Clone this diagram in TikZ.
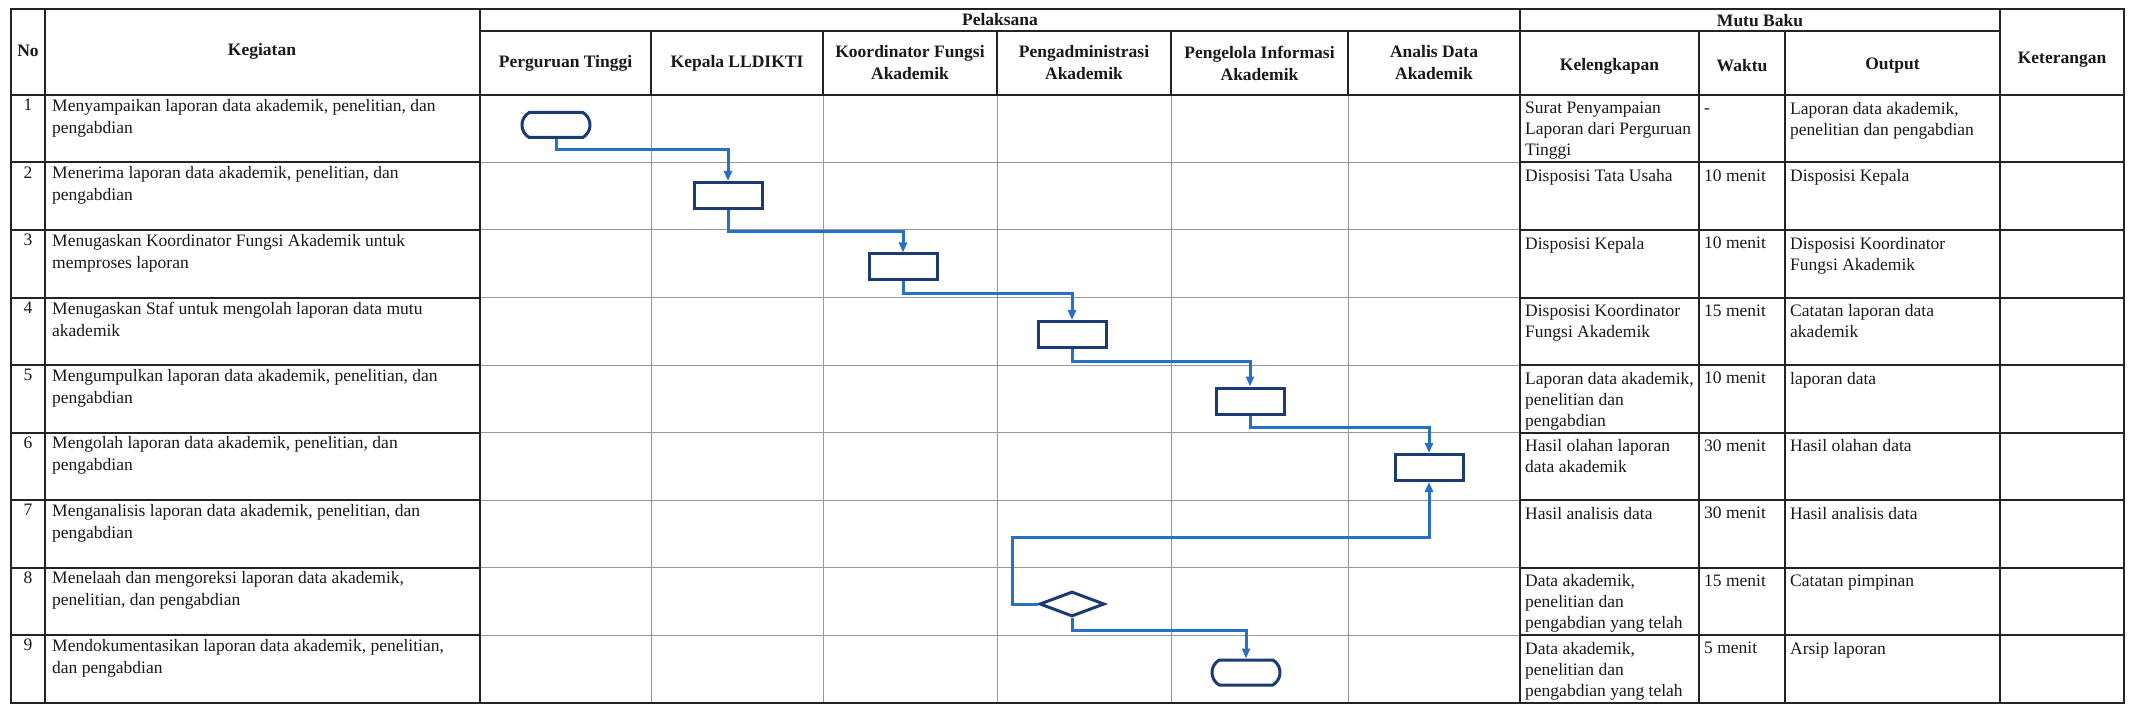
\documentclass[tikz,border=0pt]{standalone}
\usepackage{fontspec}
\setmainfont{Liberation Serif}
\usetikzlibrary{shapes.misc,shapes.geometric,arrows.meta}
\definecolor{lineblack}{RGB}{35,35,35}
\definecolor{gridgrey}{RGB}{150,150,155}
\definecolor{textblack}{RGB}{25,25,25}
\definecolor{boxblue}{RGB}{28,58,115}
\definecolor{flowblue}{RGB}{38,112,200}
\tikzset{
  blk/.style={line width=2pt, draw=lineblack},
  gry/.style={line width=1pt, draw=gridgrey},
  txt/.style={font=\fontsize{17.5}{22}\selectfont, text=textblack, inner sep=0pt, align=left, anchor=north west},
  rtxt/.style={font=\fontsize{17.5}{21}\selectfont, text=textblack, inner sep=0pt, align=left, anchor=north west},
  num/.style={font=\fontsize{17.5}{22}\selectfont, text=textblack, inner sep=0pt, anchor=north},
  hdr/.style={font=\bfseries\fontsize{17.5}{22}\selectfont, text=textblack, inner sep=0pt, align=center},
  termbox/.style={rounded rectangle, rounded rectangle arc length=120, draw=boxblue, line width=3pt, minimum width=68pt, minimum height=25pt, inner sep=0pt},
  procbox/.style={rectangle, draw=boxblue, line width=3pt, minimum width=68pt, minimum height=26pt, inner sep=0pt},
  decbox/.style={diamond, draw=boxblue, line width=3pt, minimum width=65pt, minimum height=25pt, inner sep=0pt},
  flow/.style={draw=flowblue, line width=3pt, -{Triangle[length=10pt,width=8pt]}},
}
\begin{document}
\begin{tikzpicture}[x=1pt,y=-1pt]
\useasboundingbox[fill=white] (0,0) rectangle (2130,711);

% ---- grid: grey body lines of the swimlanes
\foreach \yy in {162.5,230,297.5,365,432.5,500,567.5,635}
  \draw[gry] (480,\yy) -- (1520,\yy);
\foreach \xx in {651,823,997,1171,1348}
  \draw[gry] (\xx,95) -- (\xx,703);

% ---- black lines
\foreach \yy in {162.5,230,297.5,365,432.5,500,567.5,635}{
  \draw[blk] (11,\yy) -- (480,\yy);
  \draw[blk] (1520,\yy) -- (2124,\yy);
}
\foreach \xx in {651,823,997,1171,1348}
  \draw[blk] (\xx,31) -- (\xx,95);
\foreach \xx in {45,480,1520,2000}
  \draw[blk] (\xx,9) -- (\xx,703);
\foreach \xx in {1699,1785}
  \draw[blk] (\xx,31) -- (\xx,703);
\draw[blk] (480,31) -- (2000,31);
\draw[blk] (11,95) -- (2124,95);
\draw[line width=2.5pt, draw=lineblack] (11,9) rectangle (2124,703);

% ---- header texts
\node[hdr] (hNo) at (28,51) {No};
\node[hdr] (hKeg) at (262,51) {Kegiatan};
\node[hdr] (hPel) at (1000,20) {Pelaksana};
\node[hdr] (hMutu) at (1760,21) {Mutu Baku};
\node[hdr] (hKet) at (2062,60) {Keterangan};
\node[hdr] (hPT) at (565.5,63) {Perguruan Tinggi};
\node[hdr] (hKL) at (737,63) {Kepala LLDIKTI};
\node[hdr] (hKF) at (910,63) {Koordinator Fungsi\\Akademik};
\node[hdr] (hPA) at (1084,63) {Pengadministrasi\\Akademik};
\node[hdr] (hPI) at (1259.5,63) {Pengelola Informasi\\Akademik};
\node[hdr] (hAD) at (1434,63) {Analis Data\\Akademik};
\node[hdr] (hKel) at (1609.5,66) {Kelengkapan};
\node[hdr] (hWak) at (1742,66) {Waktu};
\node[hdr] (hOut) at (1892.5,66) {Output};

% ---- row numbers
\node[num] (n1) at (28,99) {1};
\node[num] (n2) at (28,166.5) {2};
\node[num] (n3) at (28,234) {3};
\node[num] (n4) at (28,301.5) {4};
\node[num] (n5) at (28,369) {5};
\node[num] (n6) at (28,436.5) {6};
\node[num] (n7) at (28,504) {7};
\node[num] (n8) at (28,571.5) {8};
\node[num] (n9) at (28,639) {9};

% ---- Kegiatan
\node[txt] (k1) at (52,99) {Menyampaikan laporan data akademik, penelitian, dan\\pengabdian};
\node[txt] (k2) at (52,166.5) {Menerima laporan data akademik, penelitian, dan\\pengabdian};
\node[txt] (k3) at (52,234) {Menugaskan Koordinator Fungsi Akademik untuk\\memproses laporan};
\node[txt] (k4) at (52,301.5) {Menugaskan Staf untuk mengolah laporan data mutu\\akademik};
\node[txt] (k5) at (52,369) {Mengumpulkan laporan data akademik, penelitian, dan\\pengabdian};
\node[txt] (k6) at (52,436.5) {Mengolah laporan data akademik, penelitian, dan\\pengabdian};
\node[txt] (k7) at (52,504) {Menganalisis laporan data akademik, penelitian, dan\\pengabdian};
\node[txt] (k8) at (52,571.5) {Menelaah dan mengoreksi laporan data akademik,\\penelitian, dan pengabdian};
\node[txt] (k9) at (52,639) {Mendokumentasikan laporan data akademik, penelitian,\\dan pengabdian};

% ---- Kelengkapan
\node[rtxt] (l1) at (1525,102) {Surat Penyampaian\\Laporan dari Perguruan\\Tinggi};
\node[rtxt] (l2) at (1525,169.5) {Disposisi Tata Usaha};
\node[rtxt] (l3) at (1525,237) {Disposisi Kepala};
\node[rtxt] (l4) at (1525,304.5) {Disposisi Koordinator\\Fungsi Akademik};
\node[rtxt] (l5) at (1525,372) {Laporan data akademik,\\penelitian dan\\pengabdian};
\node[rtxt] (l6) at (1525,439.5) {Hasil olahan laporan\\data akademik};
\node[rtxt] (l7) at (1525,507) {Hasil analisis data};
\node[rtxt] (l8) at (1525,574.5) {Data akademik,\\penelitian dan\\pengabdian yang telah};
\node[rtxt] (l9) at (1525,642) {Data akademik,\\penelitian dan\\pengabdian yang telah};

% ---- Waktu
\node[rtxt] (w1) at (1704,102) {\vphantom{S}-};
\node[rtxt] (w2) at (1704,169.5) {10 menit};
\node[rtxt] (w3) at (1704,237) {10 menit};
\node[rtxt] (w4) at (1704,304.5) {15 menit};
\node[rtxt] (w5) at (1704,372) {10 menit};
\node[rtxt] (w6) at (1704,439.5) {30 menit};
\node[rtxt] (w7) at (1704,507) {30 menit};
\node[rtxt] (w8) at (1704,574.5) {15 menit};
\node[rtxt] (w9) at (1704,642) {5 menit};

% ---- Output
\node[rtxt] (o1) at (1790,102) {Laporan data akademik,\\penelitian dan pengabdian};
\node[rtxt] (o2) at (1790,169.5) {Disposisi Kepala};
\node[rtxt] (o3) at (1790,237) {Disposisi Koordinator\\Fungsi Akademik};
\node[rtxt] (o4) at (1790,304.5) {Catatan laporan data\\akademik};
\node[rtxt] (o5) at (1790,372) {laporan data};
\node[rtxt] (o6) at (1790,439.5) {Hasil olahan data};
\node[rtxt] (o7) at (1790,507) {Hasil analisis data};
\node[rtxt] (o8) at (1790,574.5) {Catatan pimpinan};
\node[rtxt] (o9) at (1790,642) {Arsip laporan};

% ---- flow shapes
\node[termbox] (t1) at (556,125) {};
\node[procbox] (p2) at (728,195.5) {};
\node[procbox] (p3) at (903,267) {};
\node[procbox] (p4) at (1072,334.5) {};
\node[procbox] (p5) at (1250,401) {};
\node[procbox] (p6) at (1429,467.5) {};
\node[decbox] (d8) at (1072,604) {};
\node[termbox] (t9) at (1246,672.5) {};
\coordinate (lp) at (1012,537);

% ---- connectors
\draw[flow] (t1.south) -- ++(0,11) -| (p2.north);
\draw[flow] (p2.south) -- ++(0,22) -| (p3.north);
\draw[flow] (p3.south) -- ++(0,12) -| (p4.north);
\draw[flow] (p4.south) -- ++(0,12) -| (p5.north);
\draw[flow] (p5.south) -- ++(0,12) -| (p6.north);
\draw[flow] (d8.west) -| (lp) -| (p6.south);
\draw[flow] (d8.south) -- ++(0,12) -| (t9.north);
\end{tikzpicture}
\end{document}
